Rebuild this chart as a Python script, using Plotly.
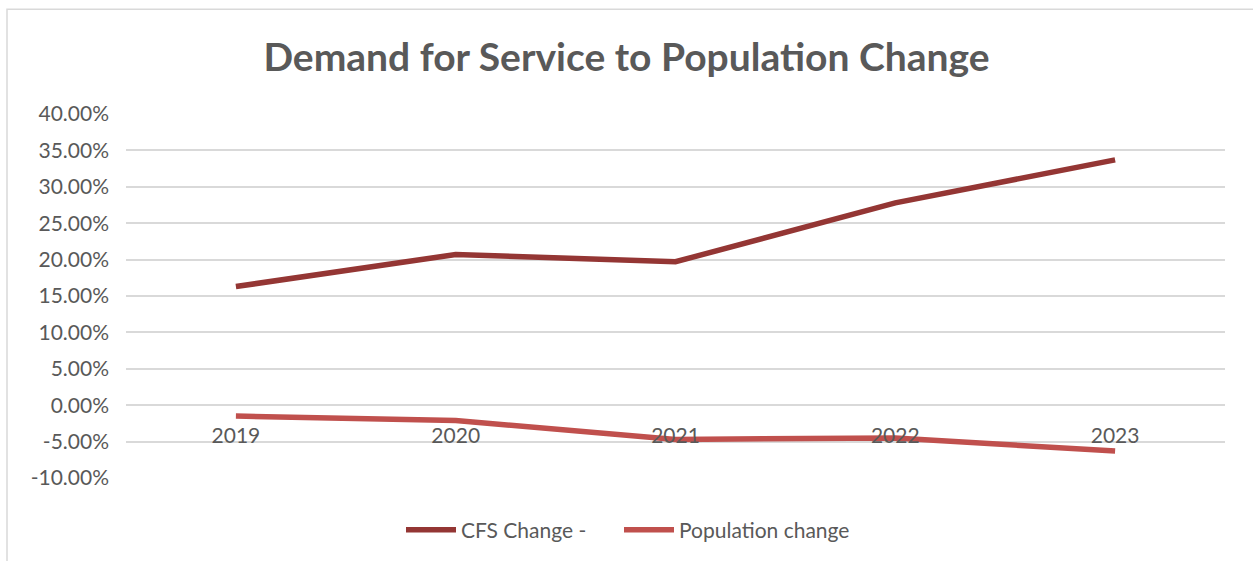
import plotly.graph_objects as go

# Yearly percentage changes
years = ["2019", "2020", "2021", "2022", "2023"]
cfs_change = [16.3, 20.7, 19.7, 27.8, 33.7]
population_change = [-1.5, -2.1, -4.7, -4.5, -6.3]

y_ticks = [40, 35, 30, 25, 20, 15, 10, 5, 0, -5, -10]
y_tick_labels = [f"{v:.2f}%" for v in y_ticks]

W, H = 1253, 561
L, R, T, B = 126, 28, 114, 82
plot_w = W - L - R
plot_h = H - T - B
y_min, y_max = -10, 40

text_color = "#595959"
font_family = "Lato, 'Open Sans', Arial, sans-serif"
tick_size = 21

fig = go.Figure()
fig.add_trace(go.Scatter(
    x=years, y=cfs_change, mode="lines", name="CFS Change -",
    line=dict(color="#943634", width=5.5), legend="legend",
))
fig.add_trace(go.Scatter(
    x=years, y=population_change, mode="lines", name="Population change",
    line=dict(color="#C0504D", width=5.5), legend="legend2",
))

# chart outer border (left/top visible)
px = lambda x: (x - L) / plot_w
py = lambda y: (H - B - y) / plot_h
fig.add_shape(type="rect", xref="paper", yref="paper",
              x0=px(7), x1=px(1265), y0=py(580), y1=py(9),
              line=dict(color="#D9D9D9", width=1.5), layer="below")

zero_pos = (0 - y_min) / (y_max - y_min)

legend_style = dict(orientation="h", xanchor="left",
                    y=py(530), yanchor="middle",
                    font=dict(size=tick_size, color=text_color),
                    itemwidth=50)

fig.update_layout(
    width=W, height=H,
    margin=dict(l=L, r=R, t=T, b=B),
    paper_bgcolor="white", plot_bgcolor="white",
    font=dict(family=font_family, color=text_color, size=tick_size),
    title=dict(text="<b>Demand for Service to Population Change</b>",
               x=0.5, xanchor="center", xref="container",
               y=(H - 57) / H, yanchor="middle",
               font=dict(size=39, color=text_color, family=font_family)),
    xaxis=dict(
        type="category", range=[-0.5, 4.5],
        anchor="free", position=zero_pos,
        showgrid=False, showline=False, zeroline=False,
        ticks="", tickfont=dict(size=tick_size, color=text_color),
        ticklabelstandoff=16,
    ),
    yaxis=dict(
        range=[y_min, y_max], tickvals=y_ticks, ticktext=y_tick_labels,
        showgrid=True, gridcolor="#D9D9D9", gridwidth=1.5,
        zeroline=False, showline=False, ticks="",
        tickfont=dict(size=tick_size, color=text_color),
        ticklabelstandoff=16,
    ),
    legend=dict(x=px(401), **legend_style),
    legend2=dict(x=px(619), **legend_style),
    showlegend=True,
)

fig.write_html("out.html")
